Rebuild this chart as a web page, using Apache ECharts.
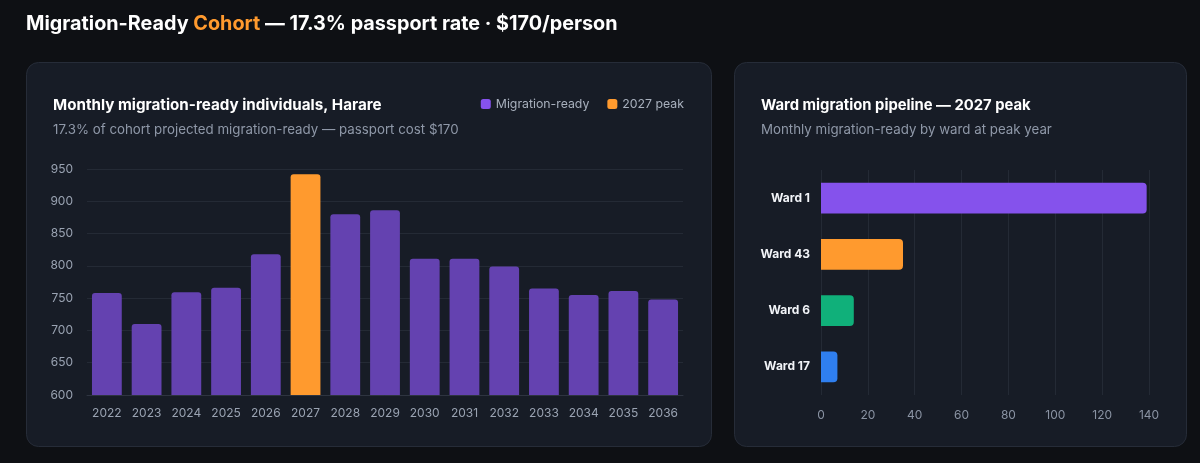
<!DOCTYPE html>
<html>
<head>
<meta charset="utf-8">
<script src="https://cdn.jsdelivr.net/npm/echarts@6/dist/echarts.min.js"></script>
<style>
html,body{margin:0;padding:0;background:#0e1014;}
#c{width:1200px;height:463px;}
</style>
</head>
<body>
<div id="c"></div>
<script>
const years = ['2022','2023','2024','2025','2026','2027','2028','2029','2030','2031','2032','2033','2034','2035','2036'];
const migrationReady = [758, 710, 759, 766, 818, 942, 880, 886, 811, 811, 799, 765, 755, 761, 748];
const peakYear = '2027';
const yTicks = {min: 600, max: 950, interval: 50};
const wards = ['Ward 1', 'Ward 43', 'Ward 6', 'Ward 17'];
const wardValues = [139, 35, 14, 7];
const wardColors = ['#8552ec', '#ff9a2e', '#10b07a', '#2f7ff0'];
const wTicks = {min: 0, max: 140, interval: 20};

const FONT = 'Inter, "Noto Sans", sans-serif';
const baseSeries = migrationReady.map((v, i) => years[i] === peakYear ? '-' : v);
const peakSeries = migrationReady.map((v, i) => years[i] === peakYear ? v : '-');

const chart = echarts.init(document.getElementById('c'), null, {renderer: 'canvas'});
chart.setOption({
  backgroundColor: '#0e1014',
  textStyle: {fontFamily: FONT},
  graphic: [
    {type: 'rect', shape: {x: 26.5, y: 62.5, width: 685, height: 384, r: 12}, style: {fill: '#171c26', stroke: '#262c38', lineWidth: 1}, z: -10},
    {type: 'rect', shape: {x: 734.5, y: 62.5, width: 452, height: 384, r: 12}, style: {fill: '#171c26', stroke: '#262c38', lineWidth: 1}, z: -10}
  ],
  title: [
    {text: '{a|Migration-Ready }{b|Cohort}{a| — 17.3% passport rate · $170/person}', left: 21, top: 9,
      textStyle: {rich: {
        a: {color: '#ffffff', fontSize: 19.8, fontWeight: 'bold', fontFamily: FONT},
        b: {color: '#ff9a2e', fontSize: 19.8, fontWeight: 'bold', fontFamily: FONT}
      }}},
    {text: 'Monthly migration-ready individuals, Harare', left: 48, top: 93,
      textStyle: {color: '#ffffff', fontSize: 15.2, fontWeight: 'bold', fontFamily: FONT}},
    {text: '17.3% of cohort projected migration-ready — passport cost $170', left: 48, top: 118,
      textStyle: {color: '#8f98a8', fontSize: 13.3, fontWeight: 'normal', fontFamily: FONT}},
    {text: 'Ward migration pipeline — 2027 peak', left: 756, top: 93,
      textStyle: {color: '#ffffff', fontSize: 14.8, fontWeight: 'bold', fontFamily: FONT}},
    {text: 'Monthly migration-ready by ward at peak year', left: 756, top: 118,
      textStyle: {color: '#8f98a8', fontSize: 13.3, fontWeight: 'normal', fontFamily: FONT}}
  ],
  legend: {
    data: [
      {name: 'Migration-ready', itemStyle: {color: '#8552ec', opacity: 1}},
      {name: '2027 peak', itemStyle: {color: '#ff9a2e', opacity: 1}}
    ],
    right: 511, top: 93,
    icon: 'roundRect', itemWidth: 10, itemHeight: 10, itemGap: 18,
    textStyle: {color: '#a8b0bd', fontSize: 12.3, fontFamily: FONT}
  },
  grid: [
    {left: 87, right: 517, top: 169, bottom: 68},
    {left: 821, right: 51, top: 170, bottom: 68}
  ],
  xAxis: [
    {type: 'category', gridIndex: 0, data: years,
      axisLine: {lineStyle: {color: '#2e3440'}}, axisTick: {show: false},
      axisLabel: {color: '#9aa3b2', fontSize: 12, margin: 12, fontFamily: FONT}},
    {type: 'value', gridIndex: 1, min: wTicks.min, max: wTicks.max, interval: wTicks.interval,
      axisLine: {show: false}, axisTick: {show: false},
      splitLine: {lineStyle: {color: '#242a35'}},
      axisLabel: {color: '#8a93a3', fontSize: 12, margin: 14, fontFamily: FONT}}
  ],
  yAxis: [
    {type: 'value', gridIndex: 0, min: yTicks.min, max: yTicks.max, interval: yTicks.interval,
      axisLine: {show: false}, axisTick: {show: false},
      splitLine: {lineStyle: {color: '#242a35'}},
      axisLabel: {color: '#9aa3b2', fontSize: 12, margin: 14, fontFamily: FONT}},
    {type: 'category', gridIndex: 1, data: wards, inverse: true,
      axisLine: {show: false}, axisTick: {show: false},
      axisLabel: {color: '#f2f4f8', fontSize: 12, fontWeight: 'bold', margin: 11, fontFamily: FONT}}
  ],
  series: [
    {name: 'Migration-ready', type: 'bar', xAxisIndex: 0, yAxisIndex: 0, data: baseSeries,
      barWidth: '75%', barGap: '-100%',
      itemStyle: {color: '#6442b0', borderRadius: [3, 3, 0, 0]}},
    {name: '2027 peak', type: 'bar', xAxisIndex: 0, yAxisIndex: 0, data: peakSeries,
      barWidth: '75%', barGap: '-100%',
      itemStyle: {color: '#ff9a2e', borderRadius: [3, 3, 0, 0]}},
    {name: 'Wards', type: 'bar', xAxisIndex: 1, yAxisIndex: 1,
      data: wardValues.map((v, i) => ({value: v, itemStyle: {color: wardColors[i]}})),
      barWidth: '55%',
      itemStyle: {borderRadius: [0, 4, 4, 0]}}
  ]
});
</script>
</body>
</html>
